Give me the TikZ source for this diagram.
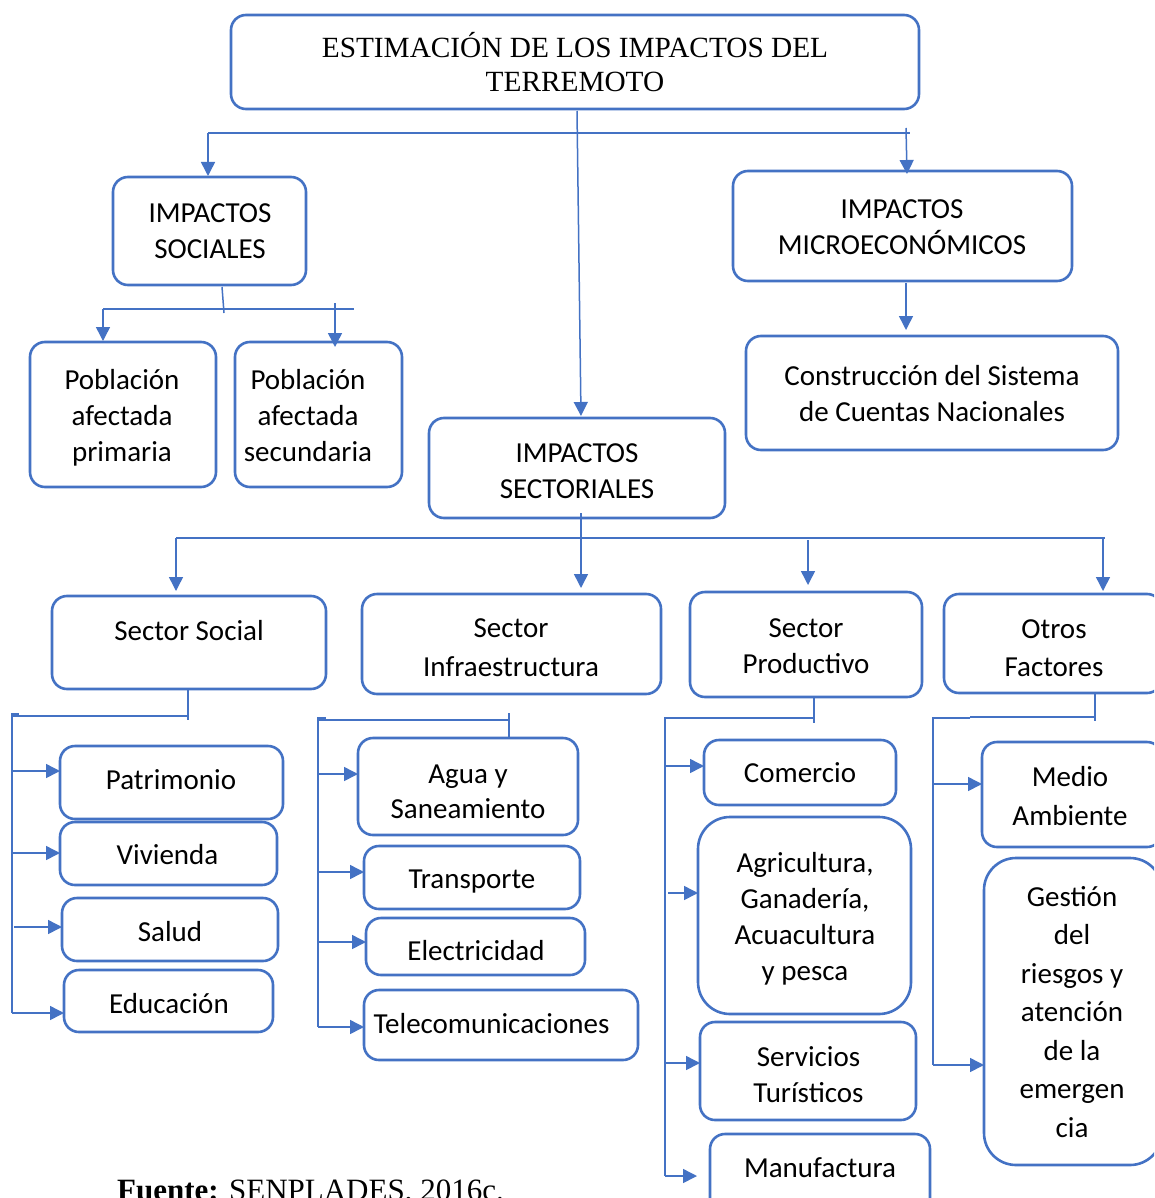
\documentclass[tikz,border=0pt]{standalone}
\usepackage{fontspec}
\setmainfont{Carlito}
\newfontfamily\serifface{Liberation Serif}
\usetikzlibrary{arrows.meta}
\definecolor{wordblue}{HTML}{4472C4}

% rounded box from its corner coordinates: [style]{name}{x1}{y1}{x2}{y2}
\newcommand{\mkbox}[6][]{%
  \node[box,#1,minimum width={#5-#3},minimum height={#6-#4}] (#2) at ({(#3+#5)/2},{(#4+#6)/2}) {};}

\tikzset{
  box/.style={draw=wordblue, line width=2.6pt, rounded corners=15pt, inner sep=0pt, outer sep=0pt},
  biground/.style={rounded corners=32pt},
  txt/.style={font=\fontsize{29}{36}\selectfont, align=center, inner sep=0pt},
  ttl/.style={font=\serifface\fontsize{29.3}{34.4}\selectfont, align=center, inner sep=0pt},
  link/.style={draw=wordblue, line width=1.5pt},
  arr/.style={link, -{Triangle[length=14pt,width=14pt]}},
}

\begin{document}
\begin{tikzpicture}[x=1pt,y=-1pt]
\useasboundingbox (0,0) rectangle (1154,1198);
\fill[white] (0,0) rectangle (1154,1198);
\clip (0,0) rectangle (1154,1198);

% ---------- boxes ----------
\mkbox{title}{231}{15}{919}{109}
\mkbox{soc}{113}{177}{306}{285}
\mkbox{micro}{733}{171}{1072}{281}
\mkbox{cuentas}{746}{336}{1118}{450}
\mkbox{pobA}{30}{342}{216}{487}
\mkbox{pobB}{235}{342}{402}{487}
\mkbox{sect}{429}{418}{725}{518}
\mkbox{ssoc}{52}{596}{326}{689}
\mkbox{sinf}{362}{594}{661}{694}
\mkbox{sprod}{690}{592}{922}{697}
\mkbox{otros}{944}{594}{1162}{693}
\mkbox{patr}{60}{746}{283}{819}
\mkbox{viv}{60}{822}{277}{885}
\mkbox{salud}{62}{898}{278}{961}
\mkbox{edu}{64}{970}{273}{1032}
\mkbox{agua}{358}{738}{578}{835}
\mkbox{transp}{364}{846}{580}{909}
\mkbox{elec}{366}{918}{585}{975}
\mkbox{tele}{364}{990}{638}{1060}
\mkbox{com}{704}{740}{896}{805}
\mkbox[biground]{agri}{698}{817}{911}{1014}
\mkbox{serv}{700}{1022}{916}{1120}
\mkbox{manu}{710}{1134}{930}{1215}
\mkbox{medio}{982}{742}{1162}{847}
\mkbox[biground]{gest}{984}{858}{1162}{1165}

% ---------- texts ----------
\node[ttl] (title-t) at (575,67) {\strut ESTIMACIÓN DE LOS IMPACTOS DEL\\TERREMOTO\strut};
\node[txt] (soc-t) at (210,233.5) {\strut IMPACTOS\\SOCIALES\strut};
\node[txt] (micro-t) at (902,229) {\strut IMPACTOS\\MICROECONÓMICOS\strut};
\node[txt] (cuentas-t) at (932,396.5) {\strut Construcción del Sistema\\de Cuentas Nacionales\strut};
\node[txt] (pobA-t) at (122,418) {\strut Población\\afectada\\primaria\strut};
\node[txt] (pobB-t) at (308,418) {\strut Población\\afectada\\secundaria\strut};
\node[txt] (sect-t) at (577,473) {\strut IMPACTOS\\SECTORIALES\strut};
\node[txt] (ssoc-t) at (189,633) {\strut Sector Social\strut};
\node[txt] (sinf-t) at (511,650) {\strut Sector\\[2.5pt]Infraestructura\strut};
\node[txt] (sprod-t) at (806,648) {\strut Sector\\Productivo\strut};
\node[txt] (otros-t) at (1054,650.5) {\strut Otros\\[2.5pt]Factores\strut};
\node[txt] (patr-t) at (171,782) {\strut Patrimonio\strut};
\node[txt] (viv-t) at (167.5,857) {\strut Vivienda\strut};
\node[txt] (salud-t) at (170,934) {\strut Salud\strut};
\node[txt] (edu-t) at (169,1006) {\strut Educación\strut};
\node[txt] (agua-t) at (468,793.5) {\strut Agua y\\[-1pt]Saneamiento\strut};
\node[txt] (transp-t) at (472,881) {\strut Transporte\strut};
\node[txt] (elec-t) at (476,953) {\strut Electricidad\strut};
\node[txt] (tele-t) at (491.5,1026) {\strut Telecomunicaciones\strut};
\node[txt] (com-t) at (800,775) {\strut Comercio\strut};
\node[txt] (agri-t) at (805,919) {\strut Agricultura,\\Ganadería,\\Acuacultura\\y pesca\strut};
\node[txt] (serv-t) at (808.5,1077) {\strut Servicios\\Turísticos\strut};
\node[txt] (manu-t) at (820,1170) {\strut Manufactura\strut};
\node[txt] (medio-t) at (1070,798.5) {\strut Medio\\[3pt]Ambiente\strut};
\node[txt] (gest-t) at (1072,1014.5) {\strut Gestión\\[2.5pt]del\\[2.5pt]riesgos y\\[2.5pt]atención\\[2.5pt]de la\\[2.5pt]emergen\\[2.5pt]cia\strut};
\node[anchor=base west, inner sep=0pt, font=\serifface\fontsize{31}{36}\selectfont] (src) at (117,1200.5) {\textbf{Fuente:} SENPLADES, 2016c.};

% ---------- junction points ----------
\coordinate (tA) at (577,111);   \coordinate (tB) at (581,416);
\coordinate (barL) at (208,133); \coordinate (barR) at (910,133);
\coordinate (socIn) at (208,176);
\coordinate (micTop) at (906,128); \coordinate (micIn) at (907,174);

\coordinate (sA) at (222,287); \coordinate (sB) at (224,313);
\coordinate (sbL) at (103,309); \coordinate (sbR) at (354,309);
\coordinate (pAin) at (103,341);
\coordinate (pBtop) at (335,303); \coordinate (pBin) at (335,347);

\coordinate (mA) at (906,283); \coordinate (mB) at (906,330);

\coordinate (secA) at (581,513); \coordinate (secB) at (581,588);
\coordinate (qL) at (176,538); \coordinate (qR) at (1105,538);
\coordinate (q1) at (176,591);
\coordinate (q3a) at (808,540); \coordinate (q3) at (808,585);
\coordinate (q4a) at (1103,538); \coordinate (q4) at (1103,591);

% ---------- top level ----------
\draw[arr] (tA) -- (tB);
\draw[link] (barL) -- (barR);
\draw[arr] (barL) -- (socIn);
\draw[arr] (micTop) -- (micIn);

% ---------- social impacts ----------
\draw[link] (sA) -- (sB);
\draw[link] (sbL) -- (sbR);
\draw[arr] (sbL) -- (pAin);
\draw[arr] (pBtop) -- (pBin);

% ---------- microeconomic ----------
\draw[arr] (mA) -- (mB);

% ---------- sectorial ----------
\draw[arr] (secA) -- (secB);
\draw[link] (qL) -- (qR);
\draw[arr] (qL) -- (q1);
\draw[arr] (q3a) -- (q3);
\draw[arr] (q4a) -- (q4);

% ---------- sector social branch ----------
\coordinate (ssA) at (188,689); \coordinate (ssB) at (188,720);
\coordinate (ssC) at (188,716); \coordinate (ssD) at (12,716);
\coordinate (ssE) at (12,1013);
\draw[link] (ssA) -- (ssB);
\draw[link] (ssC) -- (ssD) -- (12,714) -- (19,714);
\draw[link] (ssD) -- (ssE);
\draw[arr] (12,771) -- (patr.west |- 0,771);
\draw[arr] (12,853) -- (viv.west |- 0,853);
\draw[arr] (14,927) -- (salud.west |- 0,927);
\draw[arr] (ssE) -- (edu.west |- ssE);

% ---------- infrastructure branch ----------
\coordinate (siA) at (509,713); \coordinate (siB) at (509,737);
\coordinate (siC) at (509,720); \coordinate (siD) at (318,720);
\coordinate (siE) at (318,1027);
\draw[link] (siA) -- (siB);
\draw[link] (siC) -- (siD) -- (318,718) -- (326,718);
\draw[link] (siD) -- (siE);
\draw[arr] (318,774) -- (agua.west |- 0,774);
\draw[arr] (318,872) -- (transp.west |- 0,872);
\draw[arr] (318,942) -- (elec.west |- 0,942);
\draw[arr] (siE) -- (tele.west |- siE);

% ---------- productive branch ----------
\coordinate (spA) at (814,697); \coordinate (spB) at (814,723);
\coordinate (spC) at (814,718); \coordinate (spD) at (665,718);
\coordinate (spE) at (665,1176);
\draw[link] (spA) -- (spB);
\draw[link] (spC) -- (spD) -- (spE);
\draw[arr] (665,766) -- (com.west |- 0,766);
\draw[arr] (668,893) -- (agri.west |- 0,893);
\draw[arr] (665,1063) -- (serv.west |- 0,1063);
\draw[arr] (spE) -- (697,1176);

% ---------- other factors branch ----------
\coordinate (soA) at (1095,693); \coordinate (soB) at (1095,721);
\coordinate (soC) at (1095,717); \coordinate (soD) at (970,717);
\coordinate (soE) at (970,718); \coordinate (soF) at (933,718);
\coordinate (soG) at (933,1065);
\draw[link] (soA) -- (soB);
\draw[link] (soC) -- (soD);
\draw[link] (soE) -- (soF) -- (soG);
\draw[arr] (933,784) -- (medio.west |- 0,784);
\draw[arr] (soG) -- (gest.west |- soG);
\end{tikzpicture}
\end{document}
